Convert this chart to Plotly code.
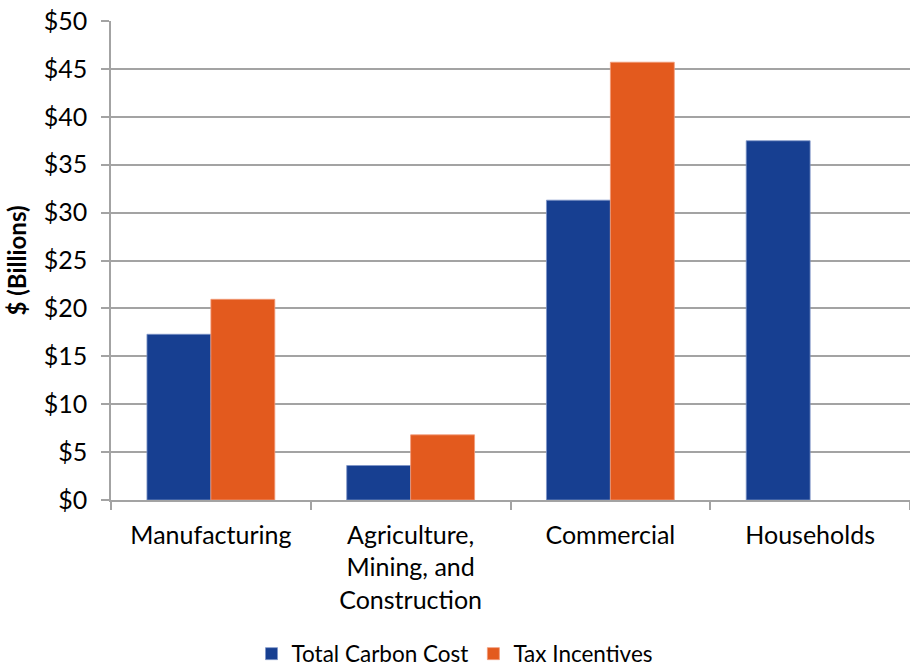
import plotly.graph_objects as go

categories = ["Manufacturing", "Agriculture,<br>Mining, and<br>Construction", "Commercial", "Households"]
total_carbon_cost = [17.3, 3.6, 31.3, 37.5]
tax_incentives = [20.95, 6.8, 45.7, None]
y_ticks = [0, 5, 10, 15, 20, 25, 30, 35, 40, 45, 50]
y_tick_labels = ["$" + str(v) for v in y_ticks]

BLUE = "#173F91"
ORANGE = "#E35A1E"
FONT = "Lato"

fig = go.Figure()
fig.add_trace(go.Bar(name="Total Carbon Cost", x=categories, y=total_carbon_cost,
                     marker=dict(color=BLUE, line=dict(color="#7F95C8", width=0.8))))
fig.add_trace(go.Bar(name="Tax Incentives", x=categories, y=tax_incentives,
                     marker=dict(color=ORANGE, line=dict(color="#F19A78", width=0.8))))

fig.update_layout(
    width=910, height=666,
    barmode="group", bargap=0.36, bargroupgap=0,
    plot_bgcolor="white", paper_bgcolor="white",
    margin=dict(l=111, r=0, t=21, b=166, autoexpand=False),
    font=dict(family=FONT, size=25, color="#000000"),
    showlegend=True,
    legend=dict(orientation="h", x=0.5, xanchor="center", xref="container",
                y=0.018, yanchor="middle", yref="container",
                font=dict(family=FONT, size=22.5), traceorder="normal"),
    yaxis=dict(range=[0, 50], tickvals=y_ticks, ticktext=y_tick_labels,
               showgrid=True, gridcolor="#A3A3A3", gridwidth=1.5,
               showline=True, linecolor="#A3A3A3", linewidth=1.5,
               ticks="outside", ticklen=8, tickcolor="#A3A3A3", tickwidth=1.5,
               ticklabelstandoff=9, automargin=False,
               tickfont=dict(family=FONT, size=25), zeroline=False,
               title=dict(text="<b>$ (Billions)</b>", font=dict(family=FONT, size=24), standoff=10)),
    xaxis=dict(showline=True, linecolor="#A3A3A3", linewidth=1.5,
               ticks="outside", ticklen=8, tickcolor="#A3A3A3", tickwidth=1.5,
               tickson="boundaries", showgrid=False, automargin=False,
               ticklabelstandoff=12,
               tickfont=dict(family=FONT, size=25)),
)

fig.write_html("out.html", config={"displayModeBar": False},
               post_script="document.body.style.margin='0';document.body.style.overflow='hidden';")
